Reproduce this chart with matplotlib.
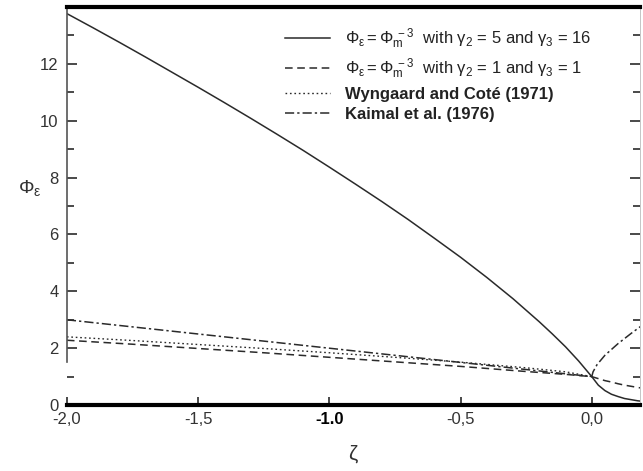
import matplotlib
matplotlib.use("Agg")
import matplotlib.pyplot as plt
from matplotlib.ticker import MultipleLocator, FixedLocator

plt.rcParams['font.family'] = ['Liberation Sans', 'DejaVu Sans']
plt.rcParams['mathtext.fontset'] = 'custom'
plt.rcParams['mathtext.rm'] = 'Liberation Sans'
plt.rcParams['mathtext.it'] = 'Liberation Sans'

# --- data ---
zeta_unstable = [-2.0, -1.9, -1.8, -1.7, -1.6, -1.5, -1.4, -1.3, -1.2, -1.1, -1.0,
                 -0.9, -0.8, -0.7, -0.6, -0.5, -0.4, -0.3, -0.2, -0.15, -0.1, -0.05, 0.0]
phi_516_unstable = [13.77, 13.27, 12.76, 12.24, 11.71, 11.18, 10.64, 10.09, 9.53, 8.96, 8.37,
                    7.77, 7.16, 6.53, 5.87, 5.20, 4.49, 3.74, 2.93, 2.50, 2.05, 1.55, 1.0]
zeta_stable = [0.0, 0.025, 0.05, 0.075, 0.1, 0.125, 0.15, 0.175, 0.2]
phi_516_stable = [1.0, 0.70, 0.51, 0.38, 0.30, 0.23, 0.19, 0.15, 0.125]

zeta_lin = [-2.0, -1.75, -1.5, -1.25, -1.0, -0.75, -0.5, -0.25, -0.1, 0.0]
phi_11_unstable = [2.28, 2.14, 1.99, 1.84, 1.68, 1.52, 1.36, 1.18, 1.08, 1.0]
phi_11_stable = [1.0, 0.93, 0.86, 0.81, 0.75, 0.70, 0.66, 0.62, 0.58]

phi_wc = [2.40, 2.27, 2.13, 1.99, 1.84, 1.68, 1.51, 1.31, 1.17, 1.0]

phi_kaimal_unstable = [3.0, 2.75, 2.5, 2.25, 2.0, 1.75, 1.5, 1.25, 1.1, 1.0]
zeta_kaimal_stable = [0.0, 0.005, 0.02, 0.05, 0.1, 0.15, 0.2]
phi_kaimal_stable = [1.0, 1.17, 1.42, 1.75, 2.16, 2.52, 2.86]

labels = [r'$\Phi_\varepsilon = \Phi_m^{\ -3}$  with $\gamma_2$ = 5 and $\gamma_3$ = 16',
          r'$\Phi_\varepsilon = \Phi_m^{\ -3}$  with $\gamma_2$ = 1 and $\gamma_3$ = 1',
          'Wyngaard and Coté (1971)',
          'Kaimal et al. (1976)']

xticks = [-2.0, -1.5, -1.0, -0.5, 0.0]
xticklabels = ['-2,0', '-1,5', '-1.0', '-0,5', '0,0']
yticks = [0, 2, 4, 6, 8, 10, 12]

lc = '#2a2a2a'

fig = plt.figure(figsize=(6.43, 4.71), dpi=100)
ax = fig.add_axes([0.104, 0.140, 0.891, 0.845])

l1, = ax.plot(zeta_unstable + zeta_stable[1:], phi_516_unstable + phi_516_stable[1:],
              color=lc, lw=1.1, ls='-')
l2, = ax.plot(zeta_lin + zeta_stable[1:], phi_11_unstable + phi_11_stable[1:],
              color=lc, lw=1.1, ls=(0, (5, 3)))
l3, = ax.plot(zeta_lin, phi_wc, color=lc, lw=1.0, ls=(0, (1.2, 2)))
l4, = ax.plot(zeta_lin + zeta_kaimal_stable[1:], phi_kaimal_unstable + phi_kaimal_stable[1:],
              color=lc, lw=1.1, ls=(0, (6, 2, 1.5, 2)))

ax.set_xlim(-2.0, 0.183)
ax.set_ylim(0, 14.0)

ax.xaxis.set_major_locator(FixedLocator(xticks))
ax.set_xticklabels(xticklabels)
ax.yaxis.set_major_locator(FixedLocator(yticks))
ax.yaxis.set_minor_locator(MultipleLocator(1))
ax.tick_params(axis='both', which='both', direction='in', colors=lc,
               labelcolor='#333333', labelsize=12, width=1.2)
ax.tick_params(axis='x', which='major', length=6, pad=5)
ax.tick_params(axis='y', which='major', length=7, right=True, pad=6)
ax.tick_params(axis='y', which='minor', length=5, right=True)
for lab in ax.get_xticklabels():
    if lab.get_text() == '-1.0':
        lab.set_fontweight('bold')
        lab.set_color('black')

ax.spines['bottom'].set_linewidth(3)
ax.spines['bottom'].set_color('black')
ax.spines['top'].set_linewidth(3)
ax.spines['top'].set_color('black')
ax.spines['left'].set_linewidth(1.2)
ax.spines['left'].set_color('#555555')
ax.spines['left'].set_bounds(1.5, 14)
ax.spines['right'].set_linewidth(0.6)
ax.spines['right'].set_color('#bbbbbb')

ax.set_xlabel(r'$\zeta$', fontsize=15, color='#333333', labelpad=12)
ax.set_ylabel(r'$\Phi_\varepsilon$', fontsize=14, color='#333333', rotation=0, labelpad=12)
ax.yaxis.set_label_coords(-0.065, 0.52)

leg = ax.legend([l1, l2, l3, l4], labels, loc='upper right',
                bbox_to_anchor=(0.942, 0.988), frameon=False, fontsize=12,
                handlelength=2.7, handletextpad=0.9, labelspacing=0.33)
for i, t in enumerate(leg.get_texts()):
    t.set_color('#222222')
    if i >= 2:
        t.set_fontweight('bold')

fig.savefig('out.png', dpi=100)
